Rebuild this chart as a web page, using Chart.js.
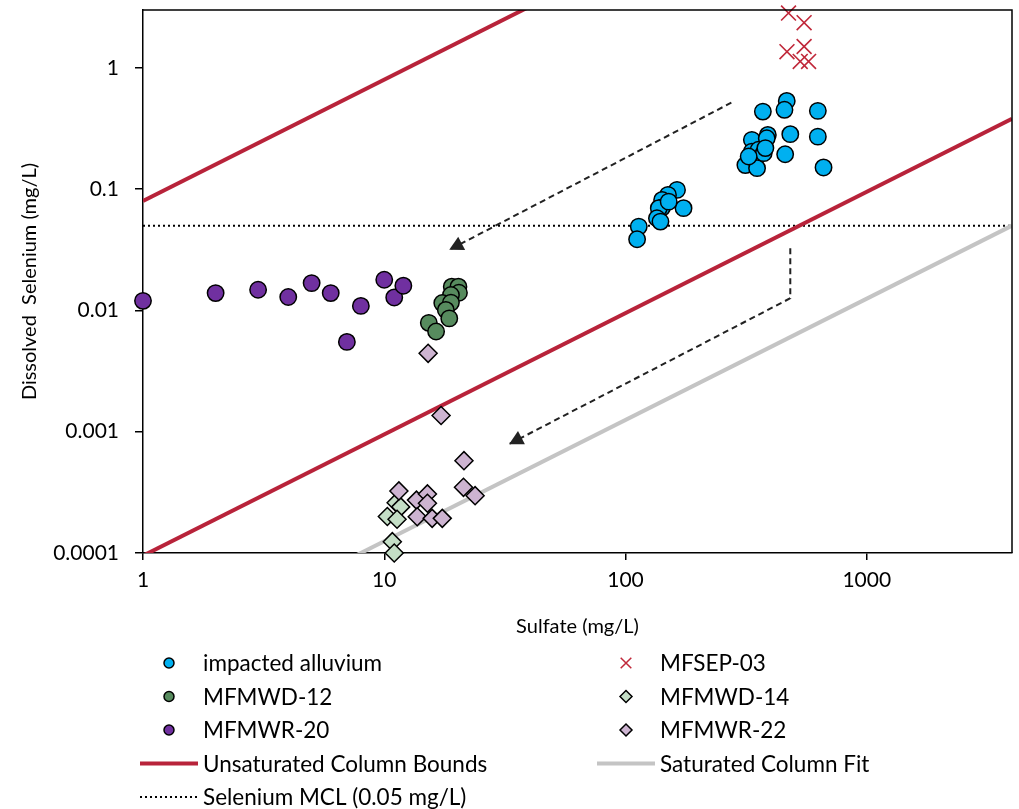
<!DOCTYPE html>
<html>
<head>
<meta charset="utf-8">
<script src="https://cdn.jsdelivr.net/npm/chart.js@4.4.1/dist/chart.umd.min.js"></script>
<style>
  html, body { margin: 0; padding: 0; background: #fff; }
  #wrap { width: 1019px; height: 809px; }
</style>
</head>
<body>
<div id="wrap"><canvas id="chart" width="1019" height="809"></canvas></div>
<script>
// axis ticks
const xTicks = [1, 10, 100, 1000];
const xTickLabels = ['1', '10', '100', '1000'];
const yTicks = [0.0001, 0.001, 0.01, 0.1, 1];
const yTickLabels = ['0.0001', '0.001', '0.01', '0.1', '1'];

// impacted alluvium (sulfate, selenium)
const alluviumSulfate = [466, 456, 371, 627, 482, 627, 459, 662, 334, 389, 385, 314, 351, 334, 356, 374, 380, 324,
  163.5, 150, 141.8, 174, 141.8, 137.4, 135, 139.6, 113.5, 111.7, 151];
const alluviumSelenium = [0.534, 0.451, 0.436, 0.442, 0.284, 0.271, 0.194, 0.151, 0.255, 0.280, 0.263, 0.158, 0.149, 0.204, 0.211, 0.198, 0.218, 0.186,
  0.0986, 0.0897, 0.0815, 0.0697, 0.0705, 0.0697, 0.0576, 0.054, 0.0491, 0.0386, 0.0789];

// MFSEP-03
const sepSulfate = [474, 550, 467, 550, 530, 574];
const sepSelenium = [2.83, 2.36, 1.36, 1.50, 1.13, 1.13];

// MFMWD-12
const mwd12Sulfate = [19.05, 20.3, 20.4, 18.9, 17.4, 18.9, 18.0, 18.6, 15.3, 16.4];
const mwd12Selenium = [0.0157, 0.0157, 0.014, 0.0134, 0.0115, 0.0116, 0.0101, 0.0086, 0.0079, 0.0067];

// MFMWD-14
const mwd14Sulfate = [11.2, 11.7, 10.3, 11.3, 10.8, 11.0];
const mwd14Selenium = [0.00026, 0.00024, 0.0002, 0.00019, 0.000124, 0.0001];

// MFMWR-20
const mwr20Sulfate = [1, 2, 3, 4, 5, 6, 7, 8, 10, 11, 12];
const mwr20Selenium = [0.012, 0.0139, 0.0148, 0.0129, 0.0168, 0.0139, 0.0055, 0.0109, 0.0179, 0.0128, 0.016];

// MFMWR-22
const mwr22Sulfate = [15.2, 17.2, 21.4, 11.5, 21.3, 23.8, 13.6, 15.1, 15.1, 13.7, 15.8, 17.4];
const mwr22Selenium = [0.00443, 0.00136, 0.000577, 0.000325, 0.000348, 0.000297, 0.000273, 0.000307, 0.000257, 0.000199, 0.000193, 0.000193];

// reference lines (end points in data units)
const upperBoundX = [1, 4000];
const upperBoundY = [0.08, 320];
const lowerBoundX = [1, 4000];
const lowerBoundY = [0.000095, 0.38];
const saturatedX = [1, 4000];
const saturatedY = [0.0000125, 0.05];
const mclX = [1, 4000];
const mclY = [0.05, 0.05];

// trend arrows
const arrow1X = [274.6, 18.6];
const arrow1Y = [0.517, 0.0316];
const arrow2X = [482, 482, 32.9];
const arrow2Y = [0.0326, 0.0126, 0.00079];

const pts = (xs, ys) => xs.map((x, i) => ({ x: x, y: ys[i] }));
const FONT = 'Lato, "Open Sans", sans-serif';

const scatterSet = (label, xs, ys, style, order) => Object.assign({
  label: label,
  data: pts(xs, ys),
  showLine: false,
  clip: false,
  order: order,
  pointBorderColor: '#000',
  pointBorderWidth: 1.5,
  pointRadius: 8.2
}, style);

const lineSet = (label, xs, ys, style) => Object.assign({
  label: label,
  data: pts(xs, ys),
  showLine: true,
  pointRadius: 0,
  clip: 0,
  order: 20,
  fill: false,
  tension: 0
}, style);

const datasets = [
  scatterSet('impacted alluvium', alluviumSulfate, alluviumSelenium, { pointStyle: 'circle', pointBackgroundColor: '#00B0F0' }, 9),
  scatterSet('MFSEP-03', sepSulfate, sepSelenium, { pointStyle: 'crossRot', pointRadius: 10.5, pointBorderColor: '#C0283A', pointBorderWidth: 1.6, pointBackgroundColor: '#C0283A' }, 8),
  scatterSet('MFMWD-12', mwd12Sulfate, mwd12Selenium, { pointStyle: 'circle', pointBackgroundColor: '#578B5E' }, 7),
  scatterSet('MFMWD-14', mwd14Sulfate, mwd14Selenium, { pointStyle: 'rectRot', pointRadius: 9, pointBackgroundColor: '#C4DEC6' }, 6),
  scatterSet('MFMWR-20', mwr20Sulfate, mwr20Selenium, { pointStyle: 'circle', pointBackgroundColor: '#7030A0' }, 5),
  scatterSet('MFMWR-22', mwr22Sulfate, mwr22Selenium, { pointStyle: 'rectRot', pointRadius: 9, pointBackgroundColor: '#CDB4D1' }, 4),
  lineSet('Unsaturated Column Bounds', upperBoundX, upperBoundY, { borderColor: '#B8233A', borderWidth: 4 }),
  lineSet('Unsaturated Column Bounds (lower)', lowerBoundX, lowerBoundY, { borderColor: '#B8233A', borderWidth: 4 }),
  lineSet('Saturated Column Fit', saturatedX, saturatedY, { borderColor: '#C4C4C4', borderWidth: 4 }),
  lineSet('Selenium MCL (0.05 mg/L)', mclX, mclY, { borderColor: '#000', borderWidth: 2, borderDash: [2, 3] }),
  lineSet('arrow1', arrow1X, arrow1Y, { borderColor: '#222', borderWidth: 2, borderDash: [6, 4], arrow: true }),
  lineSet('arrow2', arrow2X, arrow2Y, { borderColor: '#222', borderWidth: 2, borderDash: [6, 4], arrow: true })
];

// legend layout: [dataset label, column, row]
const legendItems = [
  ['impacted alluvium', 0, 0], ['MFSEP-03', 1, 0],
  ['MFMWD-12', 0, 1], ['MFMWD-14', 1, 1],
  ['MFMWR-20', 0, 2], ['MFMWR-22', 1, 2],
  ['Unsaturated Column Bounds', 0, 3], ['Saturated Column Fit', 1, 3],
  ['Selenium MCL (0.05 mg/L)', 0, 4]
];

const extras = {
  id: 'extras',
  afterDatasetsDraw(chart) {
    const ctx = chart.ctx;
    const a = chart.chartArea;
    // top and right frame
    ctx.save();
    ctx.strokeStyle = '#000';
    ctx.lineWidth = 1.5;
    ctx.beginPath();
    ctx.moveTo(a.left, a.top);
    ctx.lineTo(a.right, a.top);
    ctx.lineTo(a.right, a.bottom);
    ctx.stroke();
    ctx.restore();
    // arrowheads on arrow datasets
    chart.data.datasets.forEach((ds, i) => {
      if (!ds.arrow) return;
      const meta = chart.getDatasetMeta(i);
      const n = meta.data.length;
      const p1 = meta.data[n - 2], p2 = meta.data[n - 1];
      const ang = Math.atan2(p2.y - p1.y, p2.x - p1.x);
      const L = 14, W = 7.5;
      ctx.save();
      ctx.fillStyle = '#222';
      ctx.translate(p2.x, p2.y);
      ctx.rotate(ang);
      ctx.beginPath();
      ctx.moveTo(0, 0);
      ctx.lineTo(-L, -W);
      ctx.lineTo(-L, W);
      ctx.closePath();
      ctx.fill();
      ctx.restore();
    });
  },
  afterDraw(chart) {
    const ctx = chart.ctx;
    const colX = [169, 626];
    const textX = [203, 660];
    const rowY = [663, 696.5, 730, 763.5, 797];
    ctx.save();
    ctx.font = '22.5px ' + FONT;
    ctx.textBaseline = 'middle';
    ctx.fillStyle = '#000';
    legendItems.forEach(([label, col, row]) => {
      const ds = chart.data.datasets.find(d => d.label === label);
      const cx = colX[col], cy = rowY[row];
      if (ds.showLine) {
        ctx.save();
        ctx.strokeStyle = ds.borderColor;
        ctx.lineWidth = ds.borderWidth;
        ctx.setLineDash(ds.borderDash || []);
        ctx.beginPath();
        ctx.moveTo(cx - 29, cy);
        ctx.lineTo(cx + 29, cy);
        ctx.stroke();
        ctx.restore();
      } else {
        ctx.save();
        ctx.fillStyle = ds.pointBackgroundColor;
        ctx.strokeStyle = ds.pointBorderColor;
        const r = ds.pointStyle === 'crossRot' ? 7.5 : (ds.pointStyle === 'rectRot' ? 6 : 5);
        Chart.helpers.drawPoint(ctx, { pointStyle: ds.pointStyle, radius: r, borderWidth: 1.2, rotation: 0 }, cx, cy);
        ctx.restore();
      }
      ctx.fillText(label, textX[col], cy + 1);
    });
    ctx.restore();
  }
};

const tickFont = { family: FONT, size: 21 };
const titleFont = { family: FONT, size: 20 };

new Chart(document.getElementById('chart').getContext('2d'), {
  type: 'scatter',
  data: { datasets: datasets },
  options: {
    responsive: false,
    animation: false,
    layout: { autoPadding: false, padding: { left: 0, top: 10, right: 7, bottom: 166 } },
    plugins: { legend: { display: false }, tooltip: { enabled: false } },
    scales: {
      x: {
        type: 'logarithmic',
        min: 1,
        max: 4000,
        afterBuildTicks: s => { s.ticks = xTicks.map(v => ({ value: v })); },
        afterFit: s => { s.height = 90; s.paddingLeft = 0; s.paddingRight = 0; },
        ticks: {
          callback: v => xTickLabels[xTicks.indexOf(v)],
          font: tickFont, color: '#000', padding: 8, autoSkip: false, maxRotation: 0
        },
        grid: { drawOnChartArea: false, tickLength: 7, color: '#000', lineWidth: 1.5 },
        border: { color: '#000', width: 1.5 },
        title: { display: true, text: 'Sulfate (mg/L)', font: titleFont, color: '#000', padding: { top: 0, bottom: 4 } }
      },
      y: {
        type: 'logarithmic',
        min: 0.0001,
        max: 3,
        afterBuildTicks: s => { s.ticks = yTicks.map(v => ({ value: v })); },
        afterFit: s => { s.width = 143; s.paddingTop = 0; s.paddingBottom = 0; },
        ticks: {
          callback: v => yTickLabels[yTicks.indexOf(v)],
          font: tickFont, color: '#000', padding: 16, autoSkip: false
        },
        grid: { drawOnChartArea: false, tickLength: 8, color: '#000', lineWidth: 1.5 },
        border: { color: '#000', width: 1.5 },
        title: { display: true, text: 'Dissolved  Selenium (mg/L)', font: titleFont, color: '#000', padding: { top: 18, bottom: 0 } }
      }
    }
  },
  plugins: [extras]
});
</script>
</body>
</html>
